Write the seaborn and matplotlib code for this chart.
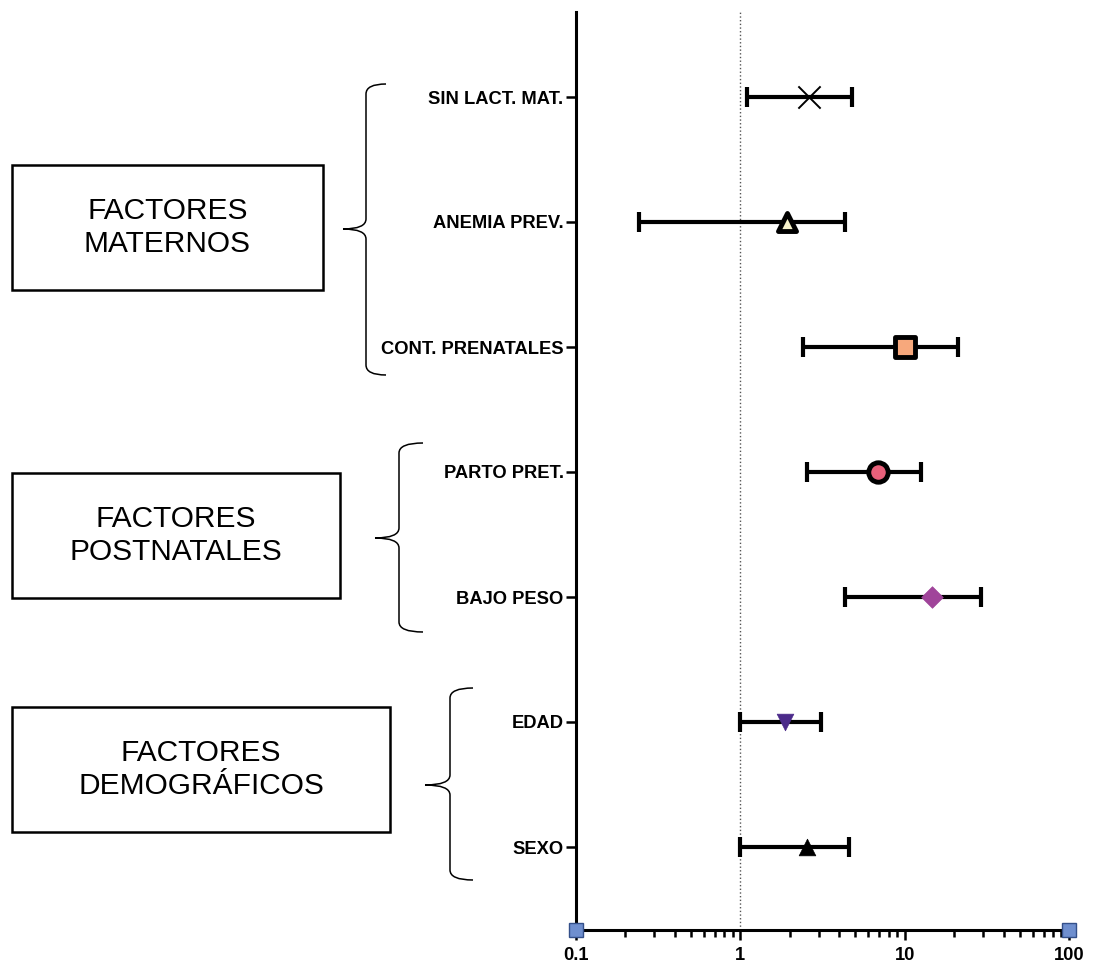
import numpy as np
import pandas as pd
import seaborn as sns
import matplotlib.pyplot as plt
from matplotlib.patches import Rectangle, PathPatch
from matplotlib.path import Path

# data: odds ratio and 95% CI
factors = ['SIN LACT. MAT.', 'ANEMIA PREV.', 'CONT. PRENATALES',
           'PARTO PRET.', 'BAJO PESO', 'EDAD', 'SEXO']
odds    = [2.63, 1.93, 10.0, 6.9, 14.7, 1.88, 2.55]
ci_low  = [1.10, 0.243, 2.42, 2.55, 4.35, 1.0, 0.99]
ci_high = [4.8, 4.35, 21.1, 12.6, 29.2, 3.1, 4.6]
groups  = ['FACTORES\nMATERNOS', 'FACTORES\nPOSTNATALES', 'FACTORES\nDEMOGRÁFICOS']

# marker styles per row
MARKER = ['x', '^', 's', 'o', 'D', 'v', '^']
FACE   = ['black', '#f6f1c9', '#f7a87c', '#e8607a', '#a0449a', '#4b2a8a', 'black']
EDGE   = ['black', 'black', 'black', 'black', '#a0449a', '#4b2a8a', 'black']
SIZE   = [16, 13, 15, 14, 11, 12, 12]
EWIDTH = [1.4, 3.5, 3.5, 3.5, 0.5, 0.5, 0.5]

W, H = 1093, 963

sns.set_style('ticks', {'axes.edgecolor': 'black', 'text.color': 'black',
                        'xtick.color': 'black', 'ytick.color': 'black'})
plt.rcParams['font.family'] = ['Liberation Sans', 'DejaVu Sans']

df = pd.DataFrame({'factor': factors, 'odds': odds, 'low': ci_low, 'high': ci_high})
df['y'] = np.arange(len(df))[::-1]

fig = plt.figure(figsize=(W / 100, H / 100), dpi=100)
ax = fig.add_axes([576 / W, 1 - 930 / H, (1069 - 576) / W, (930 - 12) / H])

ax.set_xscale('log')
ax.axvline(1, color='#555555', linestyle=':', linewidth=1.0, zorder=1)

ax.errorbar(df['odds'], df['y'],
            xerr=[df['odds'] - df['low'], df['high'] - df['odds']],
            fmt='none', ecolor='black', elinewidth=3.0, capsize=7, capthick=3.0, zorder=2)

for i, row in df.iterrows():
    sub = df.iloc[[i]]
    if MARKER[i] == 'x':
        sns.scatterplot(data=sub, x='odds', y='y', marker='x', s=SIZE[i] ** 2,
                        color='black', linewidth=EWIDTH[i], ax=ax, zorder=3)
    else:
        sns.scatterplot(data=sub, x='odds', y='y', marker=MARKER[i], s=SIZE[i] ** 2,
                        color=FACE[i], edgecolor=EDGE[i], linewidth=EWIDTH[i],
                        ax=ax, zorder=3)

ax.set_xlim(0.1, 100)
ax.set_ylim(-0.664, 6.68)
ax.set_yticks(df['y'])
ax.set_yticklabels(df['factor'], fontweight='bold', fontsize=13.2, color='black')
ax.set_xticks([0.1, 1, 10, 100])
ax.set_xticklabels(['0.1', '1', '10', '100'], fontweight='bold', fontsize=13.2,
                   color='black')
ax.set_xlabel('')
ax.set_ylabel('')
ax.tick_params(axis='y', length=7, width=1.8, pad=2, color='black')
ax.tick_params(axis='x', which='major', length=7, width=1.8, pad=5, color='black')
ax.tick_params(axis='x', which='minor', length=5, width=1.8, color='black')
for s in ['left', 'bottom']:
    ax.spines[s].set_linewidth(2.2)
    ax.spines[s].set_color('black')
sns.despine(ax=ax)

# blue squares at the axis ends
ax.plot([0.1, 100], [-0.664, -0.664], linestyle='none', marker='s', markersize=10,
        markerfacecolor='#6f8fcf', markeredgecolor='#34508a', markeredgewidth=1,
        clip_on=False, zorder=5)


def fx(px):
    return px / W


def fy(py):
    return 1 - py / H


# group boxes (pixel coords: left, top, right, bottom)
boxes = [(12, 165, 323, 290), (12, 473, 340, 598), (12, 707, 390, 832)]
for (l, t, r, b), label in zip(boxes, groups):
    fig.patches.append(Rectangle((fx(l), fy(b)), fx(r - l), (b - t) / H,
                                 transform=fig.transFigure, fill=False,
                                 edgecolor='black', linewidth=1.8))
    fig.text(fx((l + r) / 2), fy((t + b) / 2), label, ha='center', va='center',
             fontsize=21.5, linespacing=1.2, color='black')

# curly braces (pixel coords: top, bottom, end x, vertical x, tip x, tip y)
braces = [(84, 375, 386, 366, 343, 229),
          (443, 632, 423, 399, 375, 538),
          (688, 880, 473, 450, 425, 785)]
for top, bot, xe, xv, xt, ym in braces:
    r = 10
    verts = [(xe, top), (xv, top), (xv, top + r),
             (xv, ym - r), (xv, ym), (xt, ym),
             (xv, ym), (xv, ym + r),
             (xv, bot - r), (xv, bot), (xe, bot)]
    codes = [Path.MOVETO, Path.CURVE3, Path.CURVE3,
             Path.LINETO, Path.CURVE3, Path.CURVE3,
             Path.CURVE3, Path.CURVE3,
             Path.LINETO, Path.CURVE3, Path.CURVE3]
    verts = [(fx(x), fy(y)) for x, y in verts]
    fig.patches.append(PathPatch(Path(verts, codes), transform=fig.transFigure,
                                 fill=False, edgecolor='black', linewidth=1.1))

fig.savefig('out.png', dpi=100)
